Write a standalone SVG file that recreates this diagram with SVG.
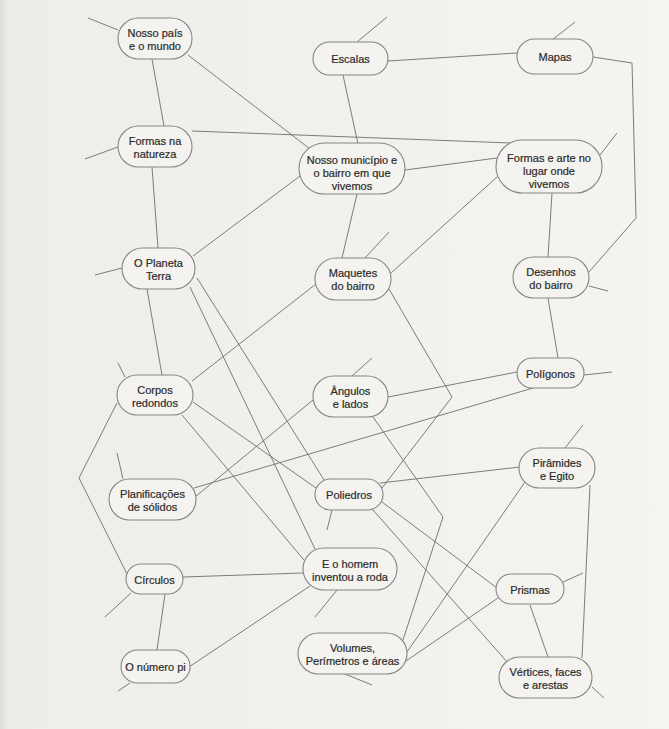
<svg xmlns="http://www.w3.org/2000/svg" width="669" height="729" viewBox="0 0 669 729">
<defs>
<linearGradient id="bg" x1="0" y1="0" x2="1" y2="0">
<stop offset="0" stop-color="#dcdbd8"/>
<stop offset="0.013" stop-color="#eeede9"/>
<stop offset="1" stop-color="#f5f4f0"/>
</linearGradient>
<style>
.n rect{fill:#f4f3ef;stroke:#858585;stroke-width:1.1}
.n text{font-family:"Liberation Sans",Arial,sans-serif;font-size:11px;fill:#2a2a2a;stroke:#2a2a2a;stroke-width:0.2;text-anchor:middle}
#edges line,#edges polyline{stroke:#757575;stroke-width:0.95;fill:none}
</style>
</defs>
<rect width="669" height="729" fill="url(#bg)"/>
<g id="edges">
<line x1="118" y1="30" x2="88" y2="18"/>
<line x1="152" y1="59" x2="164" y2="126"/>
<line x1="188" y1="55" x2="310" y2="149"/>
<line x1="192" y1="131" x2="511" y2="143"/>
<line x1="118" y1="147" x2="85" y2="159"/>
<line x1="152" y1="167" x2="158" y2="248"/>
<line x1="300" y1="176" x2="193" y2="256"/>
<line x1="357" y1="42" x2="387" y2="17"/>
<line x1="388" y1="61" x2="517" y2="53"/>
<line x1="343" y1="75" x2="358" y2="144"/>
<line x1="552" y1="40" x2="575" y2="22"/>
<polyline points="593,57 632,63 636,218 589,272"/>
<line x1="405" y1="170" x2="497" y2="158"/>
<line x1="600" y1="155" x2="617" y2="133"/>
<line x1="497" y1="177" x2="391" y2="273"/>
<line x1="552" y1="193" x2="548" y2="257"/>
<line x1="357" y1="194" x2="342" y2="258"/>
<line x1="365" y1="258" x2="389" y2="232"/>
<line x1="316" y1="284" x2="192" y2="381"/>
<polyline points="389,289 452,397 382,488"/>
<line x1="352" y1="376" x2="372" y2="358"/>
<line x1="388" y1="397" x2="517" y2="372"/>
<line x1="313" y1="400" x2="195" y2="497"/>
<line x1="533" y1="388" x2="194" y2="488"/>
<polyline points="373,417 443,517 403,640"/>
<line x1="584" y1="375" x2="612" y2="372"/>
<line x1="589" y1="286" x2="608" y2="291"/>
<line x1="548" y1="298" x2="558" y2="358"/>
<line x1="565" y1="448" x2="583" y2="425"/>
<line x1="520" y1="467" x2="380" y2="483"/>
<line x1="525" y1="482" x2="407" y2="652"/>
<line x1="590" y1="485" x2="582" y2="658"/>
<line x1="382" y1="502" x2="497" y2="588"/>
<line x1="373" y1="510" x2="508" y2="663"/>
<line x1="332" y1="510" x2="327" y2="530"/>
<line x1="563" y1="582" x2="583" y2="573"/>
<line x1="530" y1="605" x2="548" y2="657"/>
<line x1="498" y1="598" x2="406" y2="661"/>
<line x1="592" y1="687" x2="604" y2="698"/>
<line x1="345" y1="674" x2="372" y2="685"/>
<line x1="337" y1="590" x2="315" y2="617"/>
<line x1="193" y1="402" x2="316" y2="488"/>
<line x1="182" y1="415" x2="304" y2="560"/>
<line x1="190" y1="287" x2="315" y2="549"/>
<line x1="197" y1="278" x2="326" y2="483"/>
<line x1="122" y1="268" x2="95" y2="275"/>
<line x1="147" y1="289" x2="162" y2="375"/>
<line x1="125" y1="377" x2="118" y2="363"/>
<polyline points="117,403 79,478 127,574"/>
<line x1="117" y1="453" x2="123" y2="479"/>
<line x1="183" y1="577" x2="303" y2="573"/>
<line x1="131" y1="593" x2="105" y2="617"/>
<line x1="165" y1="594" x2="157" y2="650"/>
<line x1="189" y1="667" x2="310" y2="586"/>
<line x1="130" y1="683" x2="118" y2="691"/>
</g>
<g id="n-pais" class="n"><rect x="118" y="18" width="74" height="41" rx="20.5"/><text x="155" y="37">Nosso país</text><text x="155" y="50">e o mundo</text></g>
<g id="n-escalas" class="n"><rect x="313" y="42" width="75" height="33" rx="16.5"/><text x="350.5" y="63">Escalas</text></g>
<g id="n-mapas" class="n"><rect x="517" y="39" width="76" height="35" rx="17.5"/><text x="555" y="61">Mapas</text></g>
<g id="n-fnat" class="n"><rect x="118" y="126" width="74" height="41" rx="20.5"/><text x="155" y="145">Formas na</text><text x="155" y="158">natureza</text></g>
<g id="n-munic" class="n"><rect x="299" y="143" width="106" height="51" rx="25.5"/><text x="352" y="164">Nosso município e</text><text x="352" y="177">o bairro em que</text><text x="352" y="190">vivemos</text></g>
<g id="n-farte" class="n"><rect x="496" y="140" width="106" height="53" rx="26.5"/><text x="549" y="162">Formas e arte no</text><text x="549" y="175">lugar onde</text><text x="549" y="188">vivemos</text></g>
<g id="n-planeta" class="n"><rect x="122" y="248" width="73" height="41" rx="20.5"/><text x="158.5" y="267">O Planeta</text><text x="158.5" y="280">Terra</text></g>
<g id="n-maquetes" class="n"><rect x="315" y="258" width="76" height="42" rx="21"/><text x="353" y="277">Maquetes</text><text x="353" y="290">do bairro</text></g>
<g id="n-desenhos" class="n"><rect x="513" y="257" width="76" height="41" rx="20.5"/><text x="551" y="276">Desenhos</text><text x="551" y="289">do bairro</text></g>
<g id="n-corpos" class="n"><rect x="117" y="375" width="76" height="40" rx="20"/><text x="155" y="393.5">Corpos</text><text x="155" y="406.5">redondos</text></g>
<g id="n-angulos" class="n"><rect x="313" y="376" width="75" height="41" rx="20.5"/><text x="350.5" y="395">Ângulos</text><text x="350.5" y="408">e lados</text></g>
<g id="n-poligonos" class="n"><rect x="517" y="358" width="67" height="30" rx="15"/><text x="550.5" y="377.5">Polígonos</text></g>
<g id="n-planif" class="n"><rect x="109" y="479" width="87" height="41" rx="20.5"/><text x="152.5" y="498">Planificações</text><text x="152.5" y="511">de sólidos</text></g>
<g id="n-poliedros" class="n"><rect x="315" y="479" width="68" height="31" rx="15.5"/><text x="349" y="499">Poliedros</text></g>
<g id="n-piramides" class="n"><rect x="519" y="448" width="76" height="40" rx="20"/><text x="557" y="466.5">Pirâmides</text><text x="557" y="479.5">e Egito</text></g>
<g id="n-circulos" class="n"><rect x="126" y="564" width="57" height="30" rx="15"/><text x="154.5" y="583.5">Círculos</text></g>
<g id="n-homem" class="n"><rect x="303" y="548" width="94" height="42" rx="21"/><text x="350" y="567.5">E o homem</text><text x="350" y="580.5">inventou a roda</text></g>
<g id="n-prismas" class="n"><rect x="496" y="574" width="68" height="30" rx="15"/><text x="530" y="593.5">Prismas</text></g>
<g id="n-pi" class="n"><rect x="121" y="650" width="69" height="33" rx="16.5"/><text x="155.5" y="671">O número pi</text></g>
<g id="n-volumes" class="n"><rect x="298" y="633" width="109" height="41" rx="20.5"/><text x="352.5" y="652">Volumes,</text><text x="352.5" y="665">Perímetros e áreas</text></g>
<g id="n-vertices" class="n"><rect x="499" y="657" width="93" height="41" rx="20.5"/><text x="545.5" y="676">Vértices, faces</text><text x="545.5" y="689">e arestas</text></g>
</svg>
